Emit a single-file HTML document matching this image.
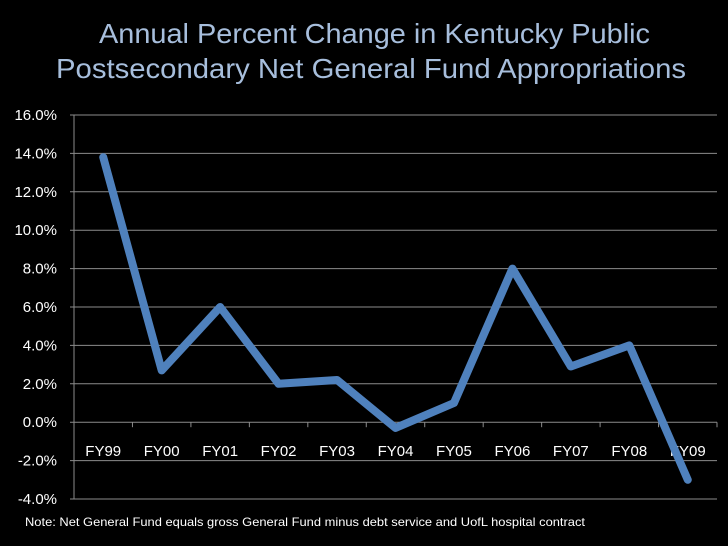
<!DOCTYPE html>
<html><head><meta charset="utf-8"><style>
body{margin:0;background:#000;}
svg{display:block;font-family:"Liberation Sans",sans-serif;}
</style></head><body>
<svg id="c" width="728" height="546">
<text x="99" y="43" textLength="551" lengthAdjust="spacingAndGlyphs" fill="#a7bedc" font-size="28">Annual Percent Change in Kentucky Public</text>
<text x="56" y="78" textLength="630" lengthAdjust="spacingAndGlyphs" fill="#a7bedc" font-size="28">Postsecondary Net General Fund Appropriations</text>
<text x="25" y="526" textLength="560" lengthAdjust="spacingAndGlyphs" fill="#fff" font-size="12">Note:  Net General Fund equals gross General Fund minus debt service and UofL hospital contract</text>
<g id="grid"></g><g id="plot"></g>
</svg>
<script>
const categories=["FY99","FY00","FY01","FY02","FY03","FY04","FY05","FY06","FY07","FY08","FY09"];
const values=[13.8,2.7,6.0,2.0,2.2,-0.3,1.0,8.0,2.9,4.0,-3.0];
const yTicks=[16,14,12,10,8,6,4,2,0,-2,-4];
const L=74,R=717,T=115,B=499,yMin=-4,yMax=16;
const ns="http://www.w3.org/2000/svg";
const y=v=>B-(v-yMin)/(yMax-yMin)*(B-T);
const bw=(R-L)/categories.length;
const x=i=>L+bw*(i+0.5);
const g=document.getElementById('grid'),p=document.getElementById('plot');
function mk(tag,attrs,parent){const e=document.createElementNS(ns,tag);for(const k in attrs)e.setAttribute(k,attrs[k]);parent.appendChild(e);return e;}
yTicks.forEach(t=>{
 const l=mk('line',{x1:L-4,x2:R,y1:y(t),y2:y(t),stroke:'#8c8c8c','stroke-width':1},g);
 
 
 const tx=mk('text',{x:57,y:y(t)+5,'text-anchor':'end',fill:'#fff','font-size':15},g);
 tx.textContent=t.toFixed(1)+'%';
 
 
});
const ax=mk('line',{x1:L,x2:L,y1:T,y2:B,stroke:'#8c8c8c'},g);


categories.forEach((c,i)=>{
 const tk=mk('line',{x1:L+bw*(i+1),x2:L+bw*(i+1),y1:y(0),y2:y(0)+5,stroke:'#8c8c8c'},g);
 
 
 const tx=mk('text',{x:x(i),y:y(0)+34,'text-anchor':'middle',fill:'#fff','font-size':15},g);
 tx.textContent=c;
 
 
});
const line=mk('polyline',{points:values.map((v,i)=>x(i)+','+y(v)).join(' '),fill:'none',stroke:'#4f81bd','stroke-width':8,'stroke-linejoin':'round','stroke-linecap':'round'},p);


</script>
</body></html>
